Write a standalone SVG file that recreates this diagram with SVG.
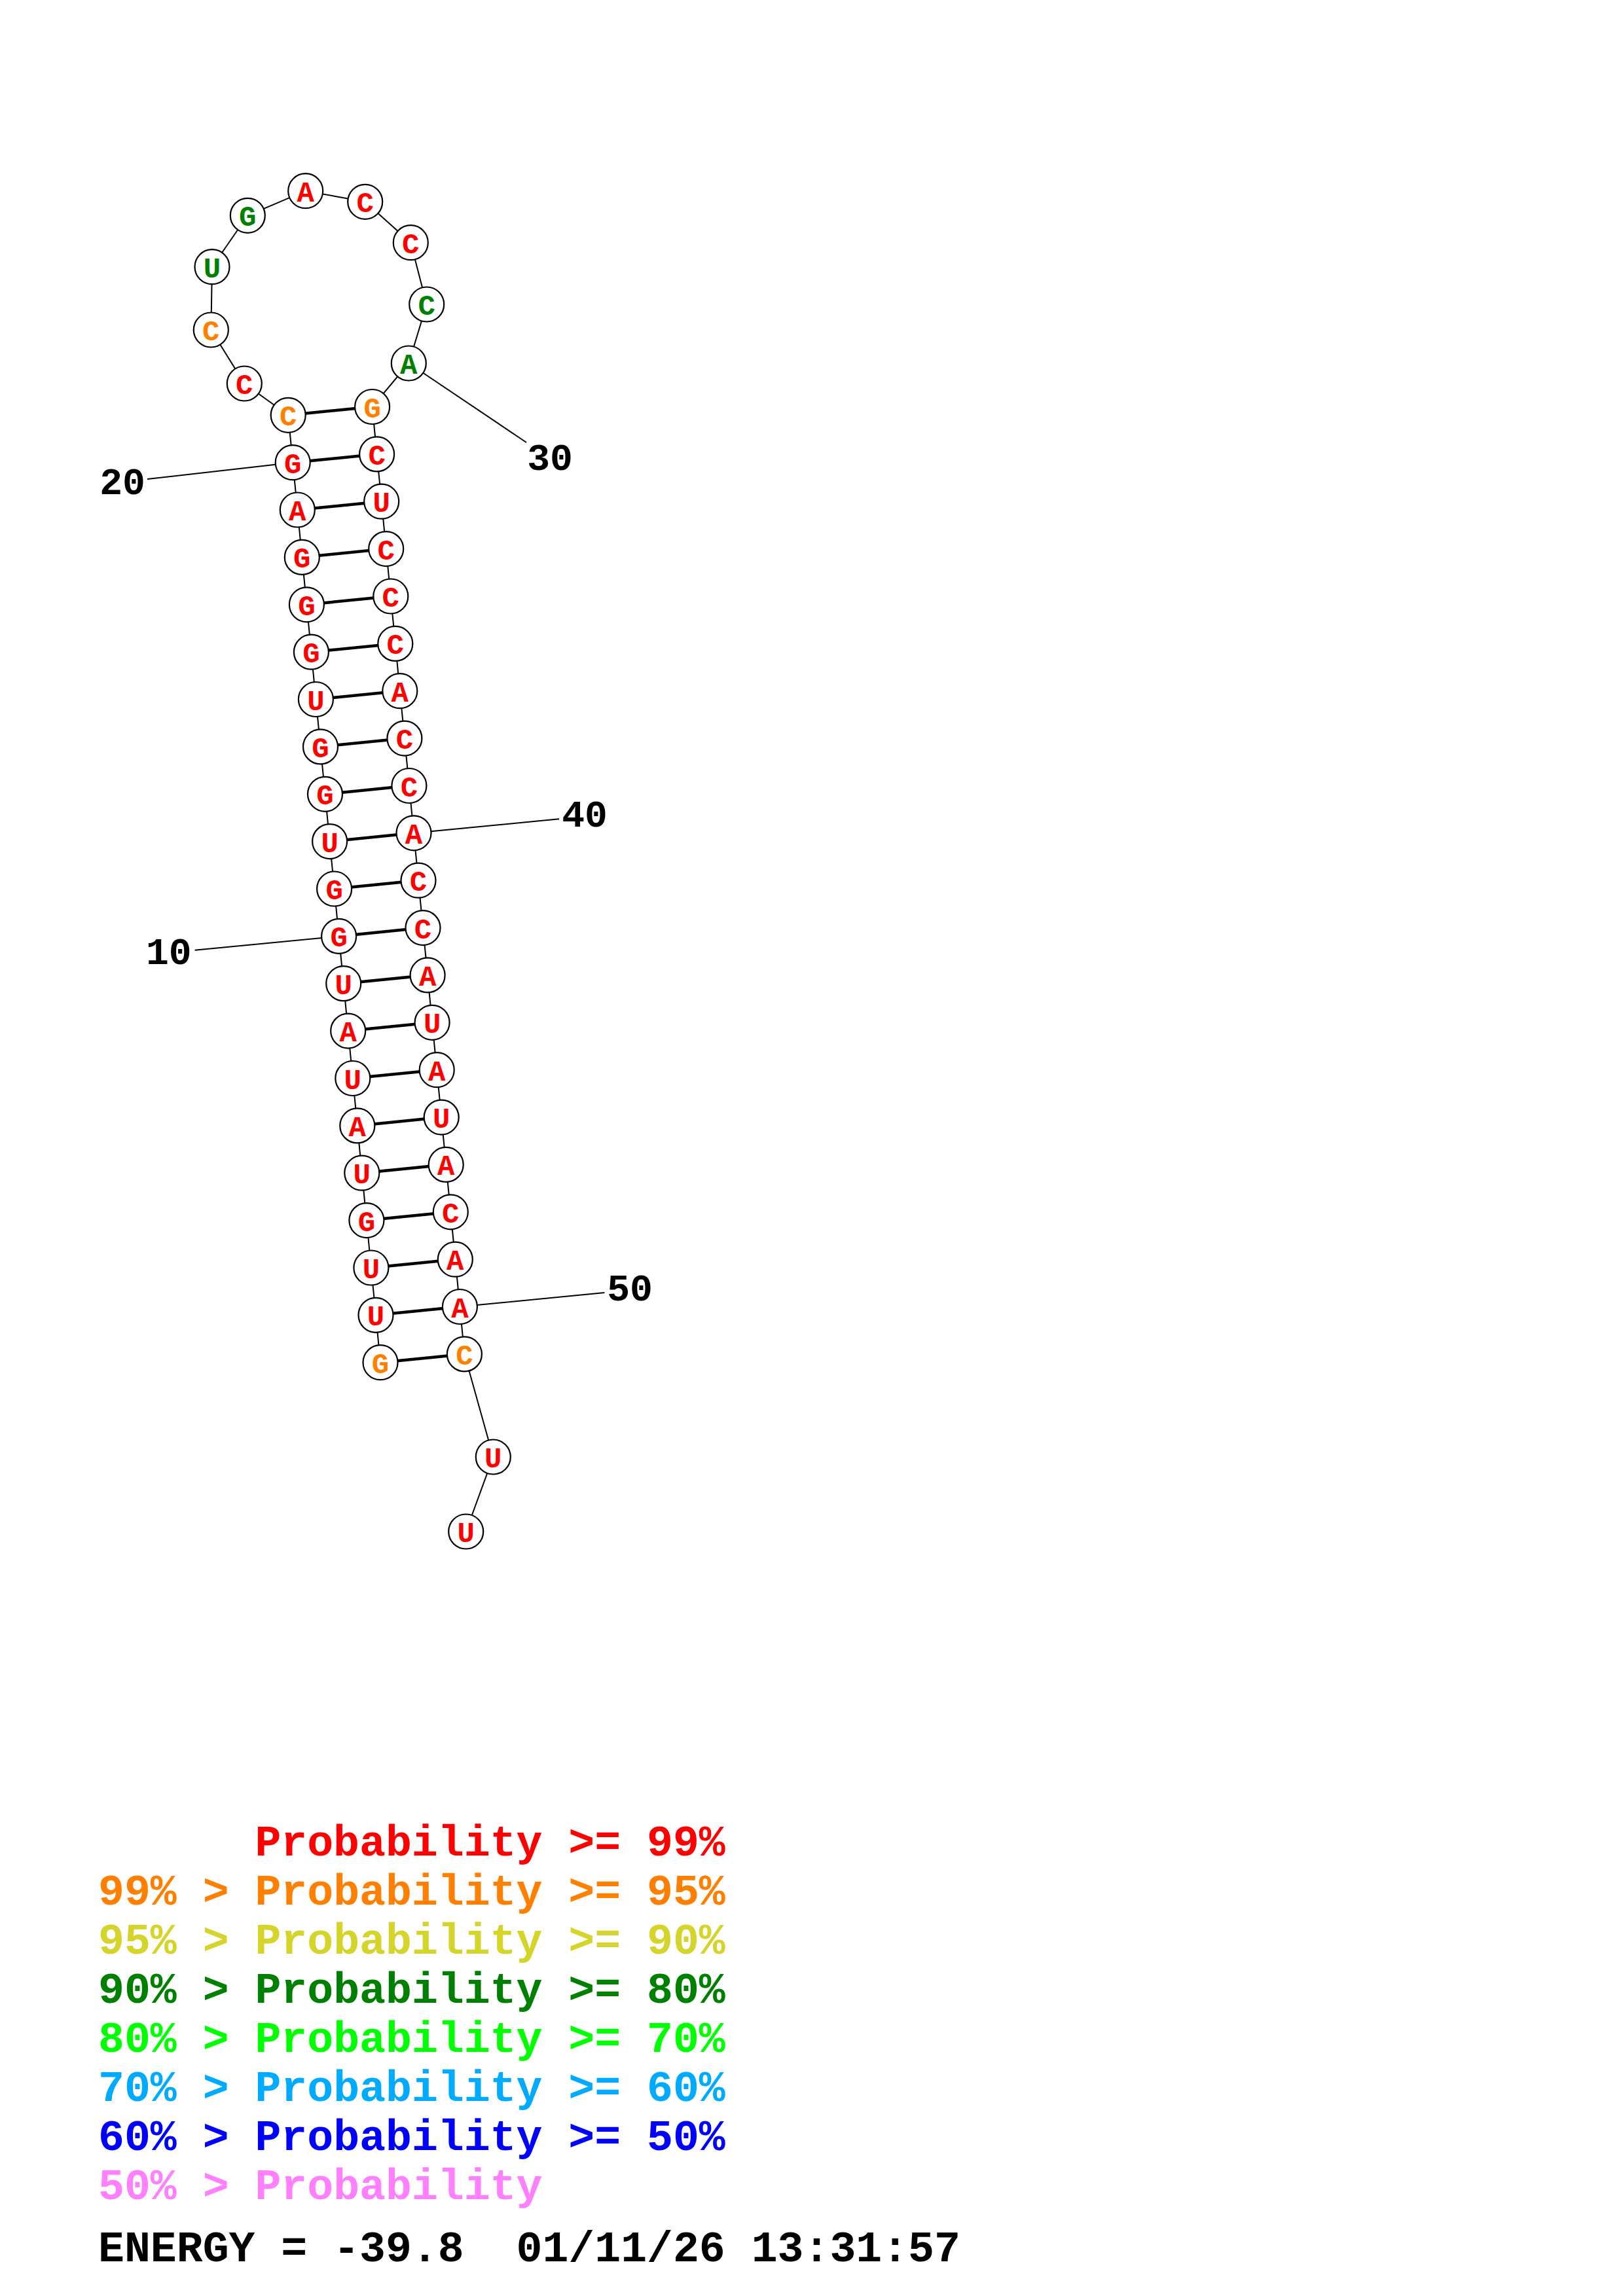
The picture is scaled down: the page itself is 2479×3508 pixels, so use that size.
<svg xmlns="http://www.w3.org/2000/svg" width="2479" height="3508" viewBox="0 0 2479 3508">
<style>
.bb{stroke:#000;stroke-width:2;fill:none}
.pr{stroke:#000;stroke-width:4.5}
.ll{stroke:#000;stroke-width:2}
.n circle{fill:#fff;stroke:#000;stroke-width:2.2}
.n text{font-family:"Liberation Mono",monospace;font-weight:bold;font-size:44px;text-anchor:middle}
.r{fill:#FF0000}.o{fill:#FF8000}.g{fill:#008000}
.lab{font-family:"Liberation Mono",monospace;font-weight:bold;font-size:58px;text-anchor:middle;fill:#000}
.leg{font-family:"Liberation Mono",monospace;font-weight:bold;font-size:66.5px}
</style>
<rect width="2479" height="3508" fill="#fff"/>
<g id="connectors">
<polyline class="bb" points="581.0,2081.7 574.0,2009.3 566.9,1937.0 559.9,1864.6 552.8,1792.2 545.8,1719.9 538.8,1647.5 531.7,1575.1 524.7,1502.7 517.6,1430.4 510.6,1358.0 503.6,1285.6 496.5,1213.3 489.5,1140.9 482.4,1068.5 475.4,996.2 468.4,923.8 461.3,851.4 454.3,779.0 447.2,706.7 440.2,634.3 373.3,586.0 322.3,504.0 324.0,407.7 378.3,329.3 466.7,291.7 557.7,308.3 627.3,370.7 651.7,465.0 624.3,555.0 568.6,621.5 575.6,693.9 582.7,766.2 589.7,838.6 596.8,911.0 603.8,983.4 610.8,1055.7 617.9,1128.1 624.9,1200.5 632.0,1272.8 639.0,1345.2 646.0,1417.6 653.1,1489.9 660.1,1562.3 667.2,1634.7 674.2,1707.1 681.2,1779.4 688.3,1851.8 695.3,1924.2 702.4,1996.5 709.4,2068.9 753.3,2226.0 711.7,2340.0"/>
<line class="pr" x1="581.0" y1="2081.7" x2="709.4" y2="2068.9"/>
<line class="pr" x1="574.0" y1="2009.3" x2="702.4" y2="1996.5"/>
<line class="pr" x1="566.9" y1="1937.0" x2="695.3" y2="1924.2"/>
<line class="pr" x1="559.9" y1="1864.6" x2="688.3" y2="1851.8"/>
<line class="pr" x1="552.8" y1="1792.2" x2="681.2" y2="1779.4"/>
<line class="pr" x1="545.8" y1="1719.9" x2="674.2" y2="1707.1"/>
<line class="pr" x1="538.8" y1="1647.5" x2="667.2" y2="1634.7"/>
<line class="pr" x1="531.7" y1="1575.1" x2="660.1" y2="1562.3"/>
<line class="pr" x1="524.7" y1="1502.7" x2="653.1" y2="1489.9"/>
<line class="pr" x1="517.6" y1="1430.4" x2="646.0" y2="1417.6"/>
<line class="pr" x1="510.6" y1="1358.0" x2="639.0" y2="1345.2"/>
<line class="pr" x1="503.6" y1="1285.6" x2="632.0" y2="1272.8"/>
<line class="pr" x1="496.5" y1="1213.3" x2="624.9" y2="1200.5"/>
<line class="pr" x1="489.5" y1="1140.9" x2="617.9" y2="1128.1"/>
<line class="pr" x1="482.4" y1="1068.5" x2="610.8" y2="1055.7"/>
<line class="pr" x1="475.4" y1="996.2" x2="603.8" y2="983.4"/>
<line class="pr" x1="468.4" y1="923.8" x2="596.8" y2="911.0"/>
<line class="pr" x1="461.3" y1="851.4" x2="589.7" y2="838.6"/>
<line class="pr" x1="454.3" y1="779.0" x2="582.7" y2="766.2"/>
<line class="pr" x1="447.2" y1="706.7" x2="575.6" y2="693.9"/>
<line class="pr" x1="440.2" y1="634.3" x2="568.6" y2="621.5"/>
<line class="ll" x1="517.6" y1="1430.4" x2="297.6" y2="1451.8"/>
<line class="ll" x1="447.2" y1="706.7" x2="225" y2="732"/>
<line class="ll" x1="624.3" y1="555.0" x2="804" y2="676"/>
<line class="ll" x1="632.0" y1="1272.8" x2="854" y2="1251.3"/>
<line class="ll" x1="702.4" y1="1996.5" x2="923.4" y2="1975"/>
</g>
<g id="n1" class="n"><circle cx="581.0" cy="2081.7" r="26.5"/><text x="581.0" y="2097.7" class="o">G</text></g>
<g id="n2" class="n"><circle cx="574.0" cy="2009.3" r="26.5"/><text x="574.0" y="2025.3" class="r">U</text></g>
<g id="n3" class="n"><circle cx="566.9" cy="1937.0" r="26.5"/><text x="566.9" y="1953.0" class="r">U</text></g>
<g id="n4" class="n"><circle cx="559.9" cy="1864.6" r="26.5"/><text x="559.9" y="1880.6" class="r">G</text></g>
<g id="n5" class="n"><circle cx="552.8" cy="1792.2" r="26.5"/><text x="552.8" y="1808.2" class="r">U</text></g>
<g id="n6" class="n"><circle cx="545.8" cy="1719.9" r="26.5"/><text x="545.8" y="1735.9" class="r">A</text></g>
<g id="n7" class="n"><circle cx="538.8" cy="1647.5" r="26.5"/><text x="538.8" y="1663.5" class="r">U</text></g>
<g id="n8" class="n"><circle cx="531.7" cy="1575.1" r="26.5"/><text x="531.7" y="1591.1" class="r">A</text></g>
<g id="n9" class="n"><circle cx="524.7" cy="1502.7" r="26.5"/><text x="524.7" y="1518.7" class="r">U</text></g>
<g id="n10" class="n"><circle cx="517.6" cy="1430.4" r="26.5"/><text x="517.6" y="1446.4" class="r">G</text></g>
<g id="n11" class="n"><circle cx="510.6" cy="1358.0" r="26.5"/><text x="510.6" y="1374.0" class="r">G</text></g>
<g id="n12" class="n"><circle cx="503.6" cy="1285.6" r="26.5"/><text x="503.6" y="1301.6" class="r">U</text></g>
<g id="n13" class="n"><circle cx="496.5" cy="1213.3" r="26.5"/><text x="496.5" y="1229.3" class="r">G</text></g>
<g id="n14" class="n"><circle cx="489.5" cy="1140.9" r="26.5"/><text x="489.5" y="1156.9" class="r">G</text></g>
<g id="n15" class="n"><circle cx="482.4" cy="1068.5" r="26.5"/><text x="482.4" y="1084.5" class="r">U</text></g>
<g id="n16" class="n"><circle cx="475.4" cy="996.2" r="26.5"/><text x="475.4" y="1012.2" class="r">G</text></g>
<g id="n17" class="n"><circle cx="468.4" cy="923.8" r="26.5"/><text x="468.4" y="939.8" class="r">G</text></g>
<g id="n18" class="n"><circle cx="461.3" cy="851.4" r="26.5"/><text x="461.3" y="867.4" class="r">G</text></g>
<g id="n19" class="n"><circle cx="454.3" cy="779.0" r="26.5"/><text x="454.3" y="795.0" class="r">A</text></g>
<g id="n20" class="n"><circle cx="447.2" cy="706.7" r="26.5"/><text x="447.2" y="722.7" class="r">G</text></g>
<g id="n21" class="n"><circle cx="440.2" cy="634.3" r="26.5"/><text x="440.2" y="650.3" class="o">C</text></g>
<g id="n22" class="n"><circle cx="373.3" cy="586.0" r="26.5"/><text x="373.3" y="602.0" class="r">C</text></g>
<g id="n23" class="n"><circle cx="322.3" cy="504.0" r="26.5"/><text x="322.3" y="520.0" class="o">C</text></g>
<g id="n24" class="n"><circle cx="324.0" cy="407.7" r="26.5"/><text x="324.0" y="423.7" class="g">U</text></g>
<g id="n25" class="n"><circle cx="378.3" cy="329.3" r="26.5"/><text x="378.3" y="345.3" class="g">G</text></g>
<g id="n26" class="n"><circle cx="466.7" cy="291.7" r="26.5"/><text x="466.7" y="307.7" class="r">A</text></g>
<g id="n27" class="n"><circle cx="557.7" cy="308.3" r="26.5"/><text x="557.7" y="324.3" class="r">C</text></g>
<g id="n28" class="n"><circle cx="627.3" cy="370.7" r="26.5"/><text x="627.3" y="386.7" class="r">C</text></g>
<g id="n29" class="n"><circle cx="651.7" cy="465.0" r="26.5"/><text x="651.7" y="481.0" class="g">C</text></g>
<g id="n30" class="n"><circle cx="624.3" cy="555.0" r="26.5"/><text x="624.3" y="571.0" class="g">A</text></g>
<g id="n31" class="n"><circle cx="568.6" cy="621.5" r="26.5"/><text x="568.6" y="637.5" class="o">G</text></g>
<g id="n32" class="n"><circle cx="575.6" cy="693.9" r="26.5"/><text x="575.6" y="709.9" class="r">C</text></g>
<g id="n33" class="n"><circle cx="582.7" cy="766.2" r="26.5"/><text x="582.7" y="782.2" class="r">U</text></g>
<g id="n34" class="n"><circle cx="589.7" cy="838.6" r="26.5"/><text x="589.7" y="854.6" class="r">C</text></g>
<g id="n35" class="n"><circle cx="596.8" cy="911.0" r="26.5"/><text x="596.8" y="927.0" class="r">C</text></g>
<g id="n36" class="n"><circle cx="603.8" cy="983.4" r="26.5"/><text x="603.8" y="999.4" class="r">C</text></g>
<g id="n37" class="n"><circle cx="610.8" cy="1055.7" r="26.5"/><text x="610.8" y="1071.7" class="r">A</text></g>
<g id="n38" class="n"><circle cx="617.9" cy="1128.1" r="26.5"/><text x="617.9" y="1144.1" class="r">C</text></g>
<g id="n39" class="n"><circle cx="624.9" cy="1200.5" r="26.5"/><text x="624.9" y="1216.5" class="r">C</text></g>
<g id="n40" class="n"><circle cx="632.0" cy="1272.8" r="26.5"/><text x="632.0" y="1288.8" class="r">A</text></g>
<g id="n41" class="n"><circle cx="639.0" cy="1345.2" r="26.5"/><text x="639.0" y="1361.2" class="r">C</text></g>
<g id="n42" class="n"><circle cx="646.0" cy="1417.6" r="26.5"/><text x="646.0" y="1433.6" class="r">C</text></g>
<g id="n43" class="n"><circle cx="653.1" cy="1489.9" r="26.5"/><text x="653.1" y="1505.9" class="r">A</text></g>
<g id="n44" class="n"><circle cx="660.1" cy="1562.3" r="26.5"/><text x="660.1" y="1578.3" class="r">U</text></g>
<g id="n45" class="n"><circle cx="667.2" cy="1634.7" r="26.5"/><text x="667.2" y="1650.7" class="r">A</text></g>
<g id="n46" class="n"><circle cx="674.2" cy="1707.1" r="26.5"/><text x="674.2" y="1723.1" class="r">U</text></g>
<g id="n47" class="n"><circle cx="681.2" cy="1779.4" r="26.5"/><text x="681.2" y="1795.4" class="r">A</text></g>
<g id="n48" class="n"><circle cx="688.3" cy="1851.8" r="26.5"/><text x="688.3" y="1867.8" class="r">C</text></g>
<g id="n49" class="n"><circle cx="695.3" cy="1924.2" r="26.5"/><text x="695.3" y="1940.2" class="r">A</text></g>
<g id="n50" class="n"><circle cx="702.4" cy="1996.5" r="26.5"/><text x="702.4" y="2012.5" class="r">A</text></g>
<g id="n51" class="n"><circle cx="709.4" cy="2068.9" r="26.5"/><text x="709.4" y="2084.9" class="o">C</text></g>
<g id="n52" class="n"><circle cx="753.3" cy="2226.0" r="26.5"/><text x="753.3" y="2242.0" class="r">U</text></g>
<g id="n53" class="n"><circle cx="711.7" cy="2340.0" r="26.5"/><text x="711.7" y="2356.0" class="r">U</text></g>
<g id="labels">
<text class="lab" x="257.8" y="1473">10</text>
<text class="lab" x="187" y="755">20</text>
<text class="lab" x="840" y="718">30</text>
<text class="lab" x="893" y="1263">40</text>
<text class="lab" x="962" y="1987">50</text>
</g>
<g id="legend" class="leg">
<text x="389.4" y="2835" fill="#FF0000">Probability &gt;= 99%</text>
<text x="150" y="2910" fill="#FF8000">99% &gt; Probability &gt;= 95%</text>
<text x="150" y="2985" fill="#D4D42B">95% &gt; Probability &gt;= 90%</text>
<text x="150" y="3060" fill="#008000">90% &gt; Probability &gt;= 80%</text>
<text x="150" y="3135" fill="#00FF00">80% &gt; Probability &gt;= 70%</text>
<text x="150" y="3210" fill="#00AAFF">70% &gt; Probability &gt;= 60%</text>
<text x="150" y="3285" fill="#0000FF">60% &gt; Probability &gt;= 50%</text>
<text x="150" y="3360" fill="#FF80FF">50% &gt; Probability</text>
<text x="150" y="3455" fill="#000" xml:space="preserve">ENERGY = -39.8  01/11/26 13:31:57</text>
</g>
</svg>
